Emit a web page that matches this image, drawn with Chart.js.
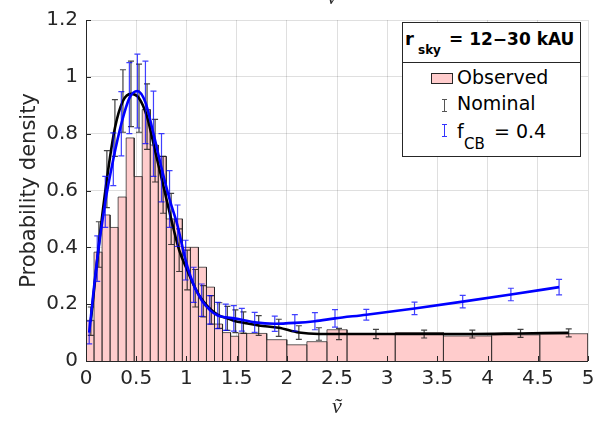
<!DOCTYPE html>
<html><head><meta charset="utf-8">
<script src="https://cdn.jsdelivr.net/npm/chart.js@4/dist/chart.umd.min.js"></script>
<style>
html,body{margin:0;padding:0;background:#fff;}
#wrap{position:relative;width:609px;height:422px;overflow:hidden;background:#fff;}
#c{position:absolute;left:0;top:0;}
.t{position:absolute;white-space:nowrap;font-family:"DejaVu Sans";color:#000;line-height:20px;}
.box{position:absolute;box-sizing:border-box;}
</style></head>
<body>
<div id="wrap">
<canvas id="c" width="609" height="422"></canvas>
<div class="t" style="left:327px;top:-14px;font-family:'Liberation Serif';font-style:italic;font-size:22px;line-height:22px;color:#262626;">ṽ</div>
<!-- legend -->
<div class="box" style="left:402px;top:22px;width:179px;height:135px;border:1px solid #262626;background:#fff;"></div>
<div class="box" style="left:402px;top:62px;width:179px;height:1px;background:#262626;"></div>
<div class="t" style="left:405px;top:29px;font-weight:bold;font-size:18px;">r</div>
<div class="t" style="left:418px;top:40px;font-weight:bold;font-size:12px;">sky</div>
<div class="t" style="left:449px;top:29px;font-weight:bold;font-size:17px;">= 12−30 kAU</div>
<div class="box" style="left:431px;top:73px;width:22px;height:11px;background:#ffcccc;border:1px solid #262626;"></div>
<div class="t" style="left:457px;top:67px;font-size:19px;">Observed</div>
<div class="box" style="left:444px;top:99px;width:1px;height:13px;background:#555;"></div>
<div class="box" style="left:442px;top:99px;width:5px;height:1px;background:#555;"></div>
<div class="box" style="left:442px;top:111px;width:5px;height:1px;background:#555;"></div>
<div class="t" style="left:457px;top:93px;font-size:19px;">Nominal</div>
<div class="box" style="left:444px;top:124px;width:1px;height:13px;background:#3333ff;"></div>
<div class="box" style="left:442px;top:124px;width:5px;height:1px;background:#3333ff;"></div>
<div class="box" style="left:442px;top:136px;width:5px;height:1px;background:#3333ff;"></div>
<div class="t" style="left:457px;top:121px;font-size:19px;">f</div>
<div class="t" style="left:464px;top:134px;font-size:15px;">CB</div>
<div class="t" style="left:494px;top:121px;font-size:19px;">= 0.4</div>
</div>
<script>
// ---------------- data ----------------
const binEdges = [0,0.08,0.16,0.24,0.32,0.40,0.48,0.56,0.64,0.72,0.80,0.88,0.96,1.04,1.12,1.20,1.28,1.36,1.44,1.52,1.60,1.80,2.00,2.20,2.40,2.60,3.08,3.56,4.04,4.52,5.00];
const observed = [0.143,0.383,0.514,0.470,0.577,0.785,0.649,0.885,0.760,0.720,0.500,0.500,0.400,0.400,0.330,0.260,0.130,0.100,0.087,0.098,0.097,0.075,0.057,0.068,0.110,0.096,0.100,0.088,0.092,0.096];
const nominalMean = [0.140,0.410,0.640,0.820,0.915,0.940,0.925,0.860,0.740,0.620,0.500,0.390,0.320,0.256,0.210,0.180,0.160,0.150,0.140,0.135,0.125,0.117,0.100,0.095,0.095,0.095,0.095,0.095,0.097,0.099];
const nominalErr  = [0.050,0.080,0.100,0.100,0.110,0.115,0.120,0.115,0.110,0.100,0.090,0.075,0.070,0.066,0.055,0.050,0.045,0.042,0.040,0.038,0.035,0.030,0.024,0.022,0.020,0.016,0.014,0.014,0.014,0.014];
const fcbMean = [0.100,0.360,0.560,0.710,0.835,0.925,0.950,0.910,0.800,0.680,0.570,0.476,0.355,0.268,0.214,0.180,0.160,0.154,0.150,0.145,0.136,0.131,0.134,0.140,0.150,0.163,0.185,0.209,0.234,0.260];
const fcbErr  = [0.040,0.080,0.090,0.093,0.113,0.125,0.130,0.145,0.150,0.120,0.100,0.073,0.070,0.062,0.057,0.050,0.046,0.046,0.045,0.040,0.035,0.027,0.029,0.030,0.031,0.019,0.022,0.022,0.022,0.027];
const xTickVals = [0,0.5,1,1.5,2,2.5,3,3.5,4,4.5,5];
const xTickLabels = ['0','0.5','1','1.5','2','2.5','3','3.5','4','4.5','5'];
const yTickVals = [0,0.2,0.4,0.6,0.8,1,1.2];
const yTickLabels = ['0','0.2','0.4','0.6','0.8','1','1.2'];

// ---------------- build ----------------
const DODGE = 0.1;
const histPts = [];
for (let i = 0; i < observed.length; i++) {
  histPts.push({x: binEdges[i], y: 0}, {x: binEdges[i], y: observed[i]},
               {x: binEdges[i+1], y: observed[i]}, {x: binEdges[i+1], y: 0});
}
function seriesPts(means, errs, sign) {
  return means.map((m, i) => {
    const c = (binEdges[i] + binEdges[i+1]) / 2;
    const w = binEdges[i+1] - binEdges[i];
    return {x: c + sign * DODGE * w, y: m, e: errs[i]};
  });
}
const AX = '#262626';
const FONT = 'DejaVu Sans';

const errorBars = {
  id: 'errorBars',
  beforeDatasetDraw(chart, args) {
    const ds = chart.data.datasets[args.index];
    if (!ds.errColor) return;
    const {ctx, scales: {x, y}} = chart;
    ctx.save();
    ctx.strokeStyle = ds.errColor;
    ctx.lineWidth = 1.2;
    ds.data.forEach(p => {
      const px = x.getPixelForValue(p.x);
      const y0 = y.getPixelForValue(p.y - p.e), y1 = y.getPixelForValue(p.y + p.e);
      ctx.beginPath();
      ctx.moveTo(px, y0); ctx.lineTo(px, y1);
      ctx.moveTo(px - 3, y0); ctx.lineTo(px + 3, y0);
      ctx.moveTo(px - 3, y1); ctx.lineTo(px + 3, y1);
      ctx.stroke();
    });
    ctx.restore();
  }
};
const axesFrame = {
  id: 'axesFrame',
  afterDatasetsDraw(chart) {
    const {ctx, chartArea: a, scales: {x, y}} = chart;
    ctx.save();
    ctx.strokeStyle = AX; ctx.lineWidth = 1;
    ctx.beginPath();
    ctx.moveTo(a.left + 0.5, a.top); ctx.lineTo(a.left + 0.5, a.bottom + 0.5);
    ctx.lineTo(a.right, a.bottom + 0.5);
    xTickVals.forEach(v => { const px = Math.round(x.getPixelForValue(v)) + 0.5; ctx.moveTo(px, a.bottom); ctx.lineTo(px, a.bottom - 5); });
    yTickVals.forEach(v => { const py = Math.round(y.getPixelForValue(v)) + 0.5; ctx.moveTo(a.left, py); ctx.lineTo(a.left + 5, py); });
    ctx.stroke();
    ctx.restore();
  }
};

new Chart(document.getElementById('c'), {
  type: 'line',
  data: {
    datasets: [
      {label: 'Observed', data: histPts, fill: 'origin', backgroundColor: '#ffcccc',
       borderColor: 'rgba(30,30,30,0.7)', borderWidth: 1, pointRadius: 0, tension: 0, order: 3},
      {label: 'Nominal', data: seriesPts(nominalMean, nominalErr, 1), borderColor: '#000000',
       borderWidth: 2.6, pointRadius: 0, cubicInterpolationMode: 'monotone', fill: false,
       errColor: 'rgba(20,20,20,0.8)', order: 2},
      {label: 'fCB = 0.4', data: seriesPts(fcbMean, fcbErr, -1), borderColor: '#0000ff',
       borderWidth: 2.6, pointRadius: 0, cubicInterpolationMode: 'monotone', fill: false,
       errColor: 'rgba(0,0,255,0.75)', order: 1}
    ]
  },
  options: {
    responsive: false, animation: false, devicePixelRatio: 1,
    layout: {padding: {left: 0, right: 21, top: 16, bottom: 0}},
    plugins: {legend: {display: false}, tooltip: {enabled: false}},
    scales: {
      x: {
        type: 'linear', min: 0, max: 5,
        afterBuildTicks: s => { s.ticks = xTickVals.map(v => ({value: v})); },
        afterFit: s => { s.height = 61; },
        ticks: {callback: (v, i) => xTickLabels[i], font: {family: FONT, size: 20}, color: AX,
                padding: 6, maxRotation: 0, autoSkip: false},
        grid: {color: 'rgba(38,38,38,0.15)', drawTicks: false},
        border: {display: false},
        title: {display: true, text: 'ṽ', color: AX,
                font: {family: 'Liberation Serif', style: 'italic', size: 22},
                padding: {top: 0, bottom: 2}}
      },
      y: {
        type: 'linear', min: 0, max: 1.2,
        afterBuildTicks: s => { s.ticks = yTickVals.map(v => ({value: v})); },
        afterFit: s => { s.width = 86; },
        ticks: {callback: (v, i) => yTickLabels[i], font: {family: FONT, size: 20}, color: AX, padding: 8},
        grid: {color: 'rgba(38,38,38,0.15)', drawTicks: false},
        border: {display: false},
        title: {display: true, text: 'Probability density', color: AX,
                font: {family: FONT, size: 21}, padding: {top: 17, bottom: 0}}
      }
    }
  },
  plugins: [errorBars, axesFrame]
});
</script>
</body></html>
